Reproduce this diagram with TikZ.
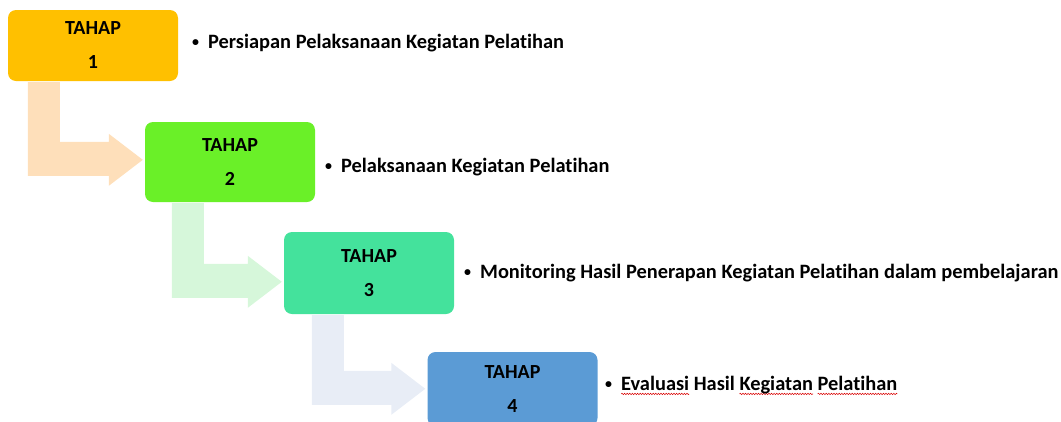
\documentclass[tikz,border=0pt]{standalone}
\usepackage{fontspec}
\setmainfont{Carlito}[Ligatures=NoCommon]
\usetikzlibrary{calc,decorations.pathmorphing}
\definecolor{c1}{RGB}{255,192,0}
\definecolor{c2}{RGB}{106,240,40}
\definecolor{c3}{RGB}{68,226,156}
\definecolor{c4}{RGB}{91,155,213}
\definecolor{a1}{RGB}{254,223,186}
\definecolor{a2}{RGB}{214,247,218}
\definecolor{a3}{RGB}{232,237,246}
\newsavebox\wbox
\newcommand\squig[1]{\sbox\wbox{#1}\tikz[overlay,baseline=0pt]\draw[red!85!black,line width=0.5pt,decorate,decoration={snake,amplitude=0.7pt,segment length=2.6pt}] (0pt,-3.5pt)--(\wd\wbox,-3.5pt);\usebox\wbox}
\newcommand\smbullet{\raisebox{1.5pt}{\fontsize{14}{14}\selectfont\textbullet}\hspace{9pt}}
\newcommand\bent[5]{%
\fill[#5] let \p1=(#1.south west), \p2=(#2.north west), \p3=($(#2.north west)+(0,#4)$) in
 (\x1+#3pt,\y1-1pt) -- (\x1+#3pt+32pt,\y1-1pt) -- (\x1+#3pt+32pt,\y3+18pt) -- (\x2-36pt,\y3+18pt) -- (\x2-36pt,\y3+26pt) -- (\x2-2pt,\y3) -- (\x2-36pt,\y3-26pt) -- (\x2-36pt,\y3-16pt) -- (\x1+#3pt,\y3-16pt) -- cycle;}
\tikzset{
  stagebox/.style={rounded corners=8pt, minimum width=170pt, align=center, inner sep=0pt,
    font=\bfseries\fontsize{20}{34}\selectfont},
  bullettxt/.style={anchor=west, inner sep=0pt, font=\bfseries\fontsize{20.4}{24}\selectfont}
}
\begin{document}
\begin{tikzpicture}[x=1pt,y=-1pt]
\useasboundingbox (0,0) rectangle (1061,421);
\clip (0,0) rectangle (1061,421);
\node[stagebox, fill=c1, minimum height=71pt] (b1) at (93,45.5) {TAHAP\\1};
\node[stagebox, fill=c2, minimum height=80pt] (b2) at (230,162) {TAHAP\\2};
\node[stagebox, fill=c3, minimum height=82pt] (b3) at (369,273) {TAHAP\\3};
\node[stagebox, fill=c4, minimum height=74pt] (b4) at (512.5,389) {TAHAP\\4};
\bent{b1}{b2}{20}{38}{a1}
\bent{b2}{b3}{27}{50}{a2}
\bent{b3}{b4}{28}{37}{a3}
\node[bullettxt] (t1) at (192,43) {\smbullet Persiapan Pelaksanaan Kegiatan Pelatihan};
\node[bullettxt] (t2) at (325,167) {\smbullet Pelaksanaan Kegiatan Pelatihan};
\node[bullettxt] (t3) at (464,273) {\smbullet Monitoring Hasil Penerapan Kegiatan Pelatihan dalam pembelajaran};
\node[bullettxt] (t4) at (605,385) {\smbullet\squig{Evaluasi} Hasil \squig{Kegiatan} \squig{Pelatihan}};
\end{tikzpicture}
\end{document}
